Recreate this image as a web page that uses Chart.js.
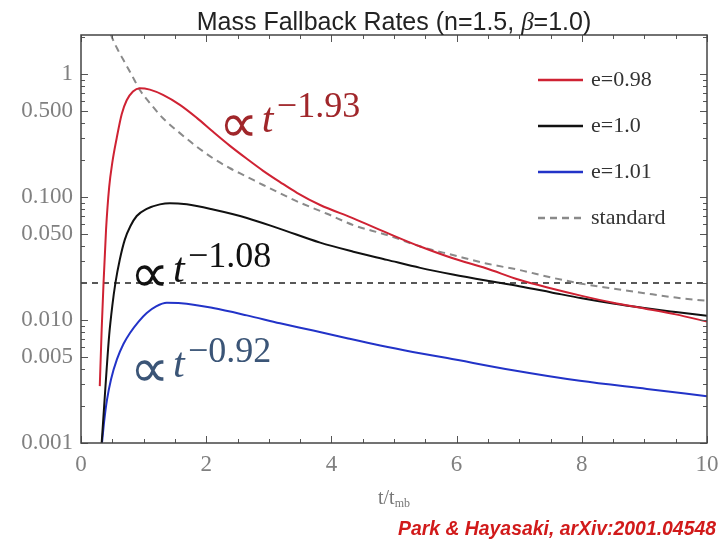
<!DOCTYPE html>
<html lang="en">
<head>
<meta charset="UTF-8">
<title>Mass Fallback Rates</title>
<script src="https://cdn.jsdelivr.net/npm/chart.js"></script>
<style>
  html, body { margin: 0; padding: 0; background: #fff; }
  #wrap { width: 728px; height: 547px; }
</style>
</head>
<body>
<div id="wrap"><canvas id="fallbackChart" width="728" height="547"></canvas></div>
<script>
// time in units of t_mb, fallback rate (log scale)
const tRed = [0.30, 0.33, 0.36, 0.40, 0.45, 0.50, 0.57, 0.65, 0.73, 0.83, 0.94, 1.10, 1.31, 1.58, 1.85, 2.11, 2.38, 2.65, 2.91, 3.18, 3.45, 3.82, 4.35, 4.89, 5.42, 5.94, 6.47, 7.0, 7.5, 8.0, 8.5, 9.0, 9.5, 10.0];
const rateRed = [0.0029, 0.0083, 0.020, 0.054, 0.12, 0.19, 0.30, 0.47, 0.61, 0.72, 0.765, 0.745, 0.675, 0.56, 0.439, 0.338, 0.26, 0.204, 0.163, 0.132, 0.108, 0.086, 0.067, 0.051, 0.0395, 0.0317, 0.0263, 0.0212, 0.0181, 0.0157, 0.0138, 0.0124, 0.0111, 0.0097];

const tBlack = [0.33, 0.37, 0.41, 0.45, 0.50, 0.55, 0.62, 0.70, 0.79, 0.89, 1.05, 1.26, 1.42, 1.69, 2.11, 2.65, 3.18, 3.82, 4.35, 4.89, 5.42, 5.94, 6.47, 7.0, 7.5, 8.0, 8.5, 9.0, 9.5, 10.0];
const rateBlack = [0.0010, 0.0020, 0.0040, 0.0075, 0.0130, 0.0200, 0.031, 0.045, 0.058, 0.070, 0.080, 0.087, 0.089, 0.087, 0.079, 0.0675, 0.055, 0.0425, 0.0359, 0.0308, 0.0265, 0.0234, 0.0209, 0.0188, 0.0168, 0.0150, 0.0136, 0.0125, 0.0116, 0.0108];

const tBlue = [0.335, 0.37, 0.415, 0.48, 0.575, 0.68, 0.78, 0.92, 1.05, 1.20, 1.37, 1.60, 2.11, 2.65, 3.18, 3.71, 4.25, 4.78, 5.30, 5.85, 6.90, 7.97, 9.04, 10.0];
const rateBlue = [0.0010, 0.0015, 0.00224, 0.0033, 0.0048, 0.0064, 0.0078, 0.0097, 0.0114, 0.0129, 0.0138, 0.0137, 0.0125, 0.0109, 0.0094, 0.0082, 0.0071, 0.0062, 0.0055, 0.0049, 0.0039, 0.0032, 0.00275, 0.0024];

const tStd = [0.42, 0.49, 0.58, 0.676, 0.81, 0.94, 1.10, 1.31, 1.58, 1.85, 2.11, 2.38, 2.65, 2.91, 3.18, 3.45, 3.71, 3.93, 4.35, 4.89, 5.42, 5.94, 6.47, 7.0, 7.5, 8.0, 8.5, 9.0, 9.5, 10.0];
const rateStd = [2.6, 2.01, 1.6, 1.30, 0.98, 0.74, 0.58, 0.436, 0.33, 0.256, 0.206, 0.171, 0.146, 0.125, 0.107, 0.092, 0.081, 0.073, 0.059, 0.049, 0.0395, 0.0337, 0.0288, 0.0255, 0.0222, 0.0197, 0.0180, 0.0165, 0.0152, 0.0143];

// horizontal reference level
const tLevel = [0, 10];
const rateLevel = [0.02, 0.02];

const seriesLabels = ['e=0.98', 'e=1.0', 'e=1.01', 'standard'];

// axes
const xTickMarks = [0, 0.5, 1, 1.5, 2, 2.5, 3, 3.5, 4, 4.5, 5, 5.5, 6, 6.5, 7, 7.5, 8, 8.5, 9, 9.5, 10];
const xTickLabels = [0, 2, 4, 6, 8, 10];
const yTickMarks = [0.001, 0.002, 0.003, 0.004, 0.005, 0.006, 0.007, 0.008, 0.009,
                    0.01, 0.02, 0.03, 0.04, 0.05, 0.06, 0.07, 0.08, 0.09,
                    0.1, 0.2, 0.3, 0.4, 0.5, 0.6, 0.7, 0.8, 0.9, 1, 2];
const yTickValues = [0.001, 0.005, 0.01, 0.05, 0.1, 0.5, 1];
const yTickLabels = ['0.001', '0.005', '0.010', '0.050', '0.100', '0.500', '1'];

// power-law slopes written next to the curves: t and rate at the text baseline
const slopeNotes = [
  { exp: '\u22121.93', t: 2.25, rate: 0.338, color: '#a0262a' },
  { exp: '\u22121.08', t: 0.83, rate: 0.0204, color: '#111111' },
  { exp: '\u22120.92', t: 0.83, rate: 0.00344, color: '#3b5577' }
];

const pts = (xs, ys) => xs.map((x, i) => ({ x: x, y: ys[i] }));

const serif = '"Liberation Serif", "Times New Roman", serif';
const sans = '"Liberation Sans", Arial, sans-serif';

const overlay = {
    id: 'overlay',
    afterDraw(chart) {
        const ctx = chart.ctx;
        const a = chart.chartArea;
        const xs = chart.scales.x, ys = chart.scales.y;
        ctx.save();

        // inward tick marks on all four sides
        ctx.strokeStyle = '#555';
        ctx.lineWidth = 1;
        ctx.beginPath();
        xTickMarks.forEach(v => {
            const px = Math.round(xs.getPixelForValue(v)) + 0.5;
            const len = xTickLabels.includes(v) ? 7 : 4;
            ctx.moveTo(px, a.bottom); ctx.lineTo(px, a.bottom - len);
            ctx.moveTo(px, a.top); ctx.lineTo(px, a.top + len);
        });
        yTickMarks.forEach(v => {
            const py = Math.round(ys.getPixelForValue(v)) + 0.5;
            const len = yTickValues.includes(v) ? 7 : 4;
            ctx.moveTo(a.left, py); ctx.lineTo(a.left + len, py);
            ctx.moveTo(a.right, py); ctx.lineTo(a.right - len, py);
        });
        ctx.stroke();

        // frame
        ctx.strokeStyle = '#444';
        ctx.lineWidth = 1.5;
        ctx.strokeRect(a.left, a.top, a.right - a.left, a.bottom - a.top);

        // title with italic beta
        const parts = [
            { s: 'Mass Fallback Rates (n=1.5, ', f: '25px ' + sans },
            { s: '\u03b2', f: 'italic 25px ' + serif },
            { s: '=1.0)', f: '25px ' + sans }
        ];
        let total = 0;
        parts.forEach(p => { ctx.font = p.f; p.w = ctx.measureText(p.s).width; total += p.w; });
        let tx = (a.left + a.right) / 2 - total / 2;
        ctx.fillStyle = '#222';
        ctx.textBaseline = 'alphabetic';
        ctx.textAlign = 'left';
        parts.forEach(p => { ctx.font = p.f; ctx.fillText(p.s, tx, 30); tx += p.w; });

        // legend
        chart.data.datasets.forEach((ds, i) => {
            if (!ds.label) return;
            const ly = 80 + i * 46;
            ctx.strokeStyle = ds.borderColor;
            ctx.lineWidth = 2.5;
            ctx.setLineDash(ds.borderDash || []);
            ctx.beginPath();
            ctx.moveTo(538, ly); ctx.lineTo(583, ly);
            ctx.stroke();
            ctx.setLineDash([]);
            ctx.fillStyle = '#333';
            ctx.font = '22px ' + serif;
            ctx.textBaseline = 'middle';
            ctx.fillText(ds.label, 591, ly);
        });

        // slope notes
        ctx.textBaseline = 'alphabetic';
        slopeNotes.forEach(n => {
            const x0 = xs.getPixelForValue(n.t);
            const y0 = ys.getPixelForValue(n.rate);
            ctx.fillStyle = n.color;
            ctx.font = '55px ' + serif;
            ctx.fillText('\u221d', x0 - 3, y0 + 10);
            ctx.font = 'italic 42px ' + serif;
            ctx.fillText('t', x0 + 40, y0);
            ctx.font = '36px ' + serif;
            ctx.fillText(n.exp, x0 + 55, y0 - 15);
        });

        // axis title t/t_mb
        ctx.fillStyle = '#777';
        ctx.font = '20px ' + serif;
        const main = 't/t';
        const mw = ctx.measureText(main).width;
        ctx.font = '12px ' + serif;
        const sw = ctx.measureText('mb').width;
        const ax = (a.left + a.right) / 2 - (mw + sw) / 2;
        ctx.font = '20px ' + serif;
        ctx.fillText(main, ax, 504);
        ctx.font = '12px ' + serif;
        ctx.fillText('mb', ax + mw, 507);

        // credit line
        ctx.fillStyle = '#d11a1a';
        ctx.font = 'italic bold 19.4px ' + sans;
        ctx.textAlign = 'right';
        ctx.fillText('Park & Hayasaki, arXiv:2001.04548', 716, 535);

        ctx.restore();
    }
};

new Chart(document.getElementById('fallbackChart'), {
    type: 'scatter',
    data: {
        datasets: [
            { label: seriesLabels[0], data: pts(tRed, rateRed), borderColor: '#cf2233', borderWidth: 2 },
            { label: seriesLabels[1], data: pts(tBlack, rateBlack), borderColor: '#111111', borderWidth: 2 },
            { label: seriesLabels[2], data: pts(tBlue, rateBlue), borderColor: '#2233c8', borderWidth: 2 },
            { label: seriesLabels[3], data: pts(tStd, rateStd), borderColor: '#8a8a8a', borderWidth: 2, borderDash: [7, 5] },
            { label: '', data: pts(tLevel, rateLevel), borderColor: '#222222', borderWidth: 1.5, borderDash: [6, 5] }
        ].map(ds => Object.assign(ds, {
            showLine: true,
            pointRadius: 0,
            fill: false,
            cubicInterpolationMode: 'monotone'
        }))
    },
    options: {
        responsive: false,
        animation: false,
        events: [],
        layout: { padding: { top: 35, right: 21, left: 0, bottom: 0 } },
        plugins: {
            legend: { display: false },
            title: { display: false },
            tooltip: { enabled: false }
        },
        scales: {
            x: {
                type: 'linear',
                min: 0,
                max: 10,
                grid: { display: false },
                border: { display: false },
                afterBuildTicks: s => { s.ticks = xTickMarks.map(v => ({ value: v })); },
                afterFit: s => { s.height = 104; },
                ticks: {
                    autoSkip: false,
                    maxRotation: 0,
                    padding: 0,
                    color: '#808080',
                    font: { family: serif, size: 23 },
                    callback: v => xTickLabels.includes(v) ? String(v) : ''
                }
            },
            y: {
                type: 'logarithmic',
                min: 0.001,
                max: 2.07,
                grid: { display: false },
                border: { display: false },
                afterBuildTicks: s => { s.ticks = yTickMarks.map(v => ({ value: v })); },
                afterFit: s => { s.width = 81; },
                ticks: {
                    autoSkip: false,
                    padding: 0,
                    color: '#808080',
                    font: { family: serif, size: 23 },
                    callback: v => {
                        const k = yTickValues.indexOf(v);
                        return k >= 0 ? yTickLabels[k] : '';
                    }
                }
            }
        }
    },
    plugins: [overlay]
});
</script>
</body>
</html>
